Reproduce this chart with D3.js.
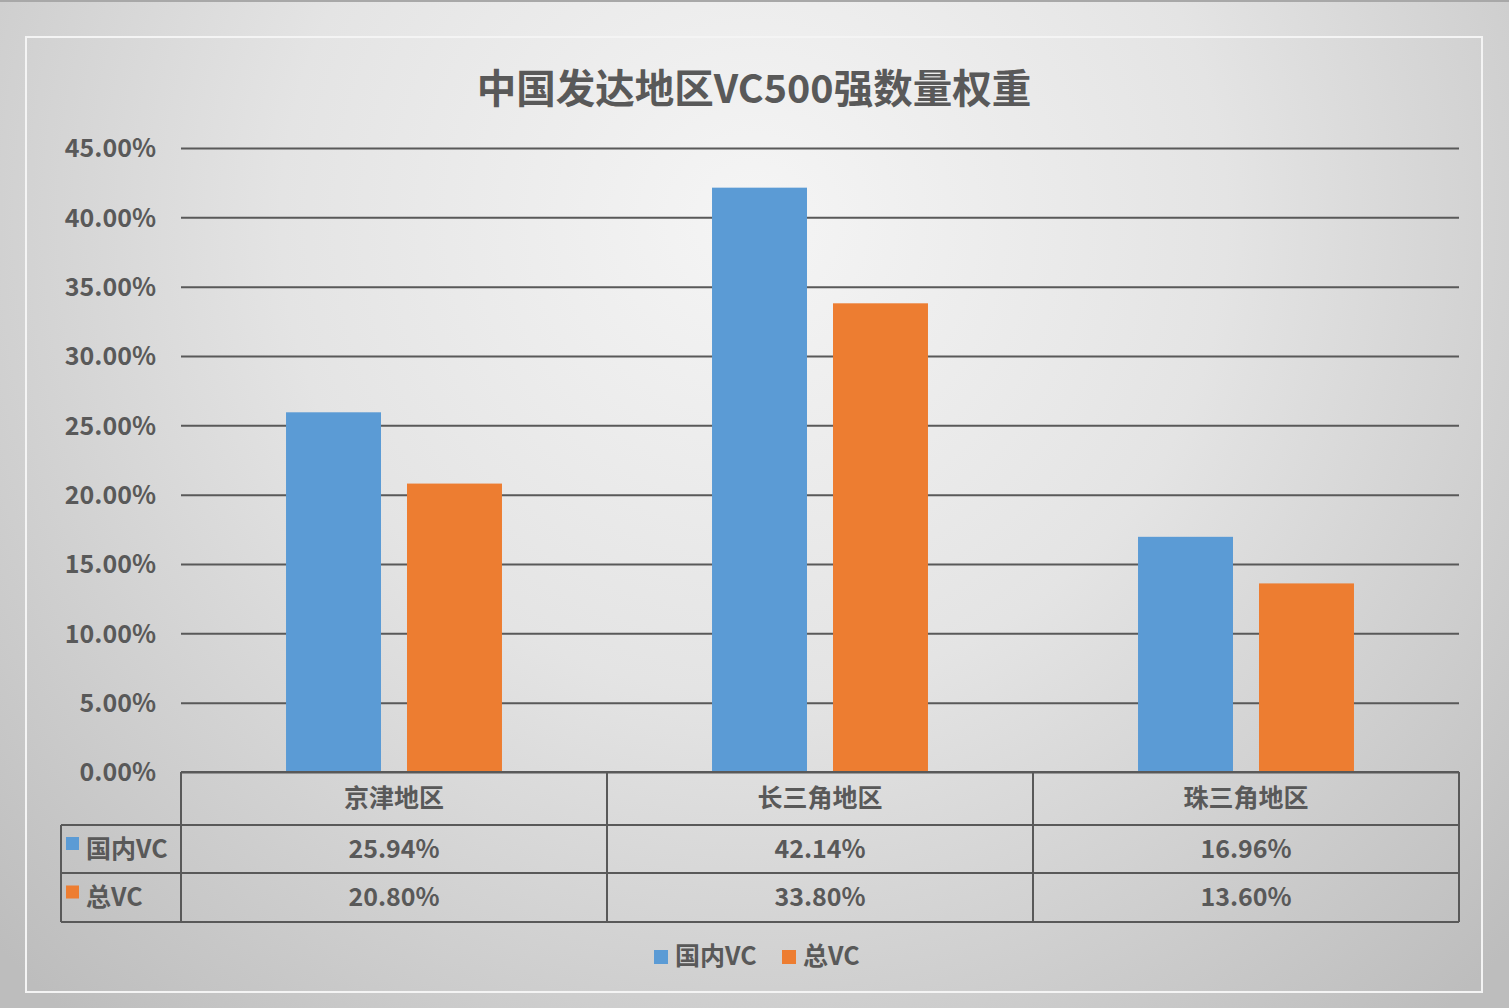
<!DOCTYPE html>
<html><head><meta charset="utf-8">
<script src="https://cdn.jsdelivr.net/npm/d3@7"></script>
<style>html,body{margin:0;padding:0;overflow:hidden;background:#d0d0d0}</style>
</head><body>
<script>
const categories = ["京津地区", "长三角地区", "珠三角地区"];
const seriesNames = ["国内VC", "总VC"];
const domesticVC = [25.94, 42.14, 16.96];
const totalVC = [20.80, 33.80, 13.60];
const yTickValues = [0, 5, 10, 15, 20, 25, 30, 35, 40, 45];
const chartTitle = "中国发达地区VC500强数量权重";

(function () {
const W = 1509, H = 1008;
const colors = ["#5B9BD5", "#ED7D31"];
const textColor = "#595959";
const font = "'Noto Sans CJK SC','Noto Sans',sans-serif";
const seriesData = [domesticVC, totalVC];

const svg = d3.select("body").append("svg").attr("width", W).attr("height", H)
  .style("display", "block").style("font-family", font);

const defs = svg.append("defs");
const rg = defs.append("radialGradient").attr("id", "bg")
  .attr("gradientUnits", "userSpaceOnUse").attr("cx", 754).attr("cy", 220).attr("r", 1050)
  .attr("fx", 754).attr("fy", 220);
rg.append("stop").attr("offset", 0).attr("stop-color", "#f5f5f5");
rg.append("stop").attr("offset", 0.45).attr("stop-color", "#e4e4e4");
rg.append("stop").attr("offset", 1).attr("stop-color", "#bdbdbd");

svg.append("rect").attr("width", W).attr("height", H).attr("fill", "url(#bg)");
svg.append("line").attr("x1", 0).attr("x2", W).attr("y1", 1).attr("y2", 1)
  .attr("stroke", "#a8a8a8").attr("stroke-width", 2);
svg.append("rect").attr("x", 26).attr("y", 37).attr("width", 1456).attr("height", 955)
  .attr("fill", "none").attr("stroke", "#f4f4f4").attr("stroke-width", 2);

svg.append("text").attr("x", 754).attr("y", 103).attr("text-anchor", "middle")
  .attr("font-size", 39.5).attr("font-weight", "bold").attr("fill", textColor).text(chartTitle);

const pLeft = 181, pRight = 1459, pTop = 148, pBottom = 772;
const y = d3.scaleLinear().domain([0, 45]).range([pBottom, pTop]);
const x0 = d3.scaleBand().domain(categories).range([pLeft, pRight]).paddingInner(0).paddingOuter(0);
const x1 = d3.scaleBand().domain(seriesNames).range([0, x0.bandwidth()])
  .paddingInner(0.215).paddingOuter(0.868);

const yAxis = d3.axisLeft(y).tickValues(yTickValues).tickSize(-(pRight - pLeft)).tickPadding(25)
  .tickFormat(d => d.toFixed(2) + "%");
const gy = svg.append("g").attr("transform", `translate(${pLeft},0)`).call(yAxis);
gy.select(".domain").remove();
gy.selectAll(".tick line").attr("stroke", textColor).attr("stroke-width", 2);
gy.selectAll(".tick text").attr("fill", textColor).attr("font-size", 25).attr("font-weight", "bold")
  .attr("font-family", font).attr("dy", "0.35em");

const groups = svg.append("g").selectAll("g").data(categories).join("g")
  .attr("transform", d => `translate(${x0(d)},0)`);
groups.selectAll("rect").data((c, i) => seriesNames.map((s, j) => ({ s, v: seriesData[j][i], j })))
  .join("rect")
  .attr("x", d => x1(d.s)).attr("width", x1.bandwidth())
  .attr("y", d => y(d.v)).attr("height", d => y(0) - y(d.v))
  .attr("fill", d => colors[d.j]);

const rowY = [772, 825, 873, 922];
const tbl = svg.append("g").attr("stroke", textColor).attr("stroke-width", 2).attr("fill", "none");
tbl.append("line").attr("x1", pLeft).attr("x2", pRight).attr("y1", rowY[0]).attr("y2", rowY[0]);
[1, 2, 3].forEach(i => tbl.append("line").attr("x1", 61).attr("x2", pRight).attr("y1", rowY[i]).attr("y2", rowY[i]));
tbl.append("line").attr("x1", 61).attr("x2", 61).attr("y1", rowY[1]).attr("y2", rowY[3]);
const vx = categories.map(c => x0(c)).concat([pRight]);
vx.forEach(xv => tbl.append("line").attr("x1", xv).attr("x2", xv).attr("y1", rowY[0]).attr("y2", rowY[3]));

const tt = svg.append("g").attr("fill", textColor).attr("font-weight", "bold").attr("font-size", 25)
  .attr("text-anchor", "middle");
categories.forEach((c, i) => {
  const cx = x0(c) + x0.bandwidth() / 2;
  tt.append("text").attr("x", cx).attr("y", (rowY[0] + rowY[1]) / 2).attr("dy", "0.35em").text(c);
  seriesData.forEach((arr, j) => {
    tt.append("text").attr("x", cx).attr("y", (rowY[j + 1] + rowY[j + 2]) / 2).attr("dy", "0.35em")
      .text(arr[i].toFixed(2) + "%");
  });
});
seriesNames.forEach((s, j) => {
  const cy = (rowY[j + 1] + rowY[j + 2]) / 2;
  svg.append("rect").attr("x", 66).attr("y", cy - 12).attr("width", 13).attr("height", 13).attr("fill", colors[j]);
  svg.append("text").attr("x", 86).attr("y", cy).attr("dy", "0.35em").attr("fill", textColor)
    .attr("font-weight", "bold").attr("font-size", 25).text(s);
});

const legendX = [654, 782];
seriesNames.forEach((s, j) => {
  svg.append("rect").attr("x", legendX[j]).attr("y", 950).attr("width", 14).attr("height", 14).attr("fill", colors[j]);
  svg.append("text").attr("x", legendX[j] + 21).attr("y", 956).attr("dy", "0.35em").attr("fill", textColor)
    .attr("font-weight", "bold").attr("font-size", 25).text(s);
});
})();
</script>
</body></html>
